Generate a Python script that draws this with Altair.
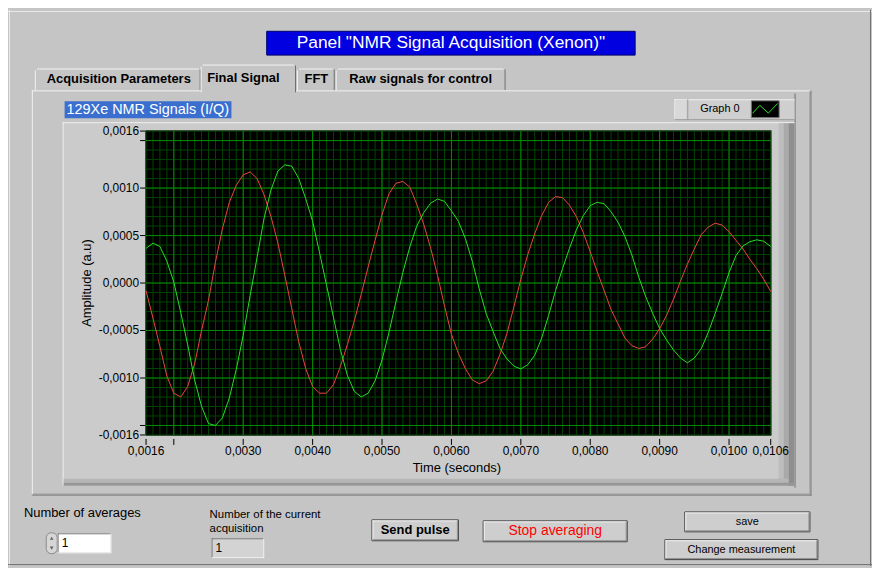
import altair as alt
import numpy as np
import pandas as pd

FONT = "Liberation Sans"

# ---------------- data (amplitude read in units of 1e-4 a.u.) ----------------
t_start_s = 0.0016
t_step_s = 0.0001
signal_I = [-0.8, -3.7, -6.7, -9.8, -11.6, -12.0, -10.9, -8.5, -5.0, -1.8,
            2.2, 5.7, 8.5, 10.3, 11.4, 11.7, 11.0, 9.3, 7.0, 4.2,
            0.8, -2.7, -6.2, -9.0, -10.9, -11.6, -11.6, -10.7, -8.8, -6.5,
            -4.0, -1.2, 1.7, 4.5, 7.2, 9.4, 10.5, 10.7, 10.1, 8.3,
            6.2, 3.7, 0.8, -2.4, -5.4, -7.4, -9.0, -10.2, -10.6, -10.3,
            -9.3, -7.5, -5.3, -2.5, 0.4, 3.0, 5.2, 7.1, 8.5, 9.1,
            9.0, 8.2, 7.0, 5.3, 3.3, 1.2, -0.8, -2.8, -4.3, -5.8,
            -6.6, -6.9, -6.7, -5.9, -4.8, -3.4, -1.7, 0.2, 2.0, 3.6,
            5.1, 5.9, 6.3, 6.1, 5.4, 4.5, 3.6, 2.5, 1.5, 0.4,
            -0.9]
signal_Q = [3.65, 4.2, 3.85, 2.3, 0.1, -3.1, -6.5, -10.2, -13.0, -14.8,
            -15.0, -14.2, -12.1, -9.1, -5.5, -1.3, 2.7, 6.8, 9.8, 11.8,
            12.45, 12.3, 11.0, 8.9, 6.5, 3.2, -0.2, -3.6, -7.0, -9.7,
            -11.4, -12.0, -11.6, -10.3, -8.1, -5.2, -2.0, 1.1, 3.8, 6.0,
            7.4, 8.4, 8.85, 8.6, 7.6, 6.5, 4.7, 2.3, -0.6, -3.2,
            -5.1, -6.9, -8.0, -8.75, -9.05, -8.6, -7.6, -5.8, -3.4, -0.8,
            1.5, 3.65, 5.6, 7.1, 8.15, 8.5, 8.35, 7.5, 6.4, 4.9,
            2.95, 0.6, -1.45, -3.2, -4.8, -6.0, -7.05, -7.9, -8.4, -7.9,
            -6.9, -5.2, -3.2, -1.1, 1.1, 2.9, 3.9, 4.35, 4.55, 4.4,
            3.85]
time_s = list(np.round(t_start_s + t_step_s * np.arange(len(signal_I)), 5))

x_ticks = [0.0016, 0.002, 0.003, 0.004, 0.005, 0.006, 0.007, 0.008, 0.009, 0.010, 0.0106]
x_tick_labels = ["0,0016", "", "0,0030", "0,0040", "0,0050", "0,0060", "0,0070",
                 "0,0080", "0,0090", "0,0100", "0,0106"]
y_ticks = [-0.0016, -0.0015, -0.001, -0.0005, 0.0, 0.0005, 0.001, 0.0015, 0.0016]
y_tick_labels = ["-0,0016", "", "-0,0010", "-0,0005", "0,0000", "0,0005", "0,0010", "", "0,0016"]
x_major_grid = [0.002, 0.003, 0.004, 0.005, 0.006, 0.007, 0.008, 0.009, 0.010]
y_major_grid = [-0.0015, -0.001, -0.0005, 0.0, 0.0005, 0.001, 0.0015]
x_minor_grid = list(np.round(np.arange(16, 107) * 1e-4, 4))
y_minor_grid = list(np.round(np.arange(-16, 17) * 1e-4, 4))

series_names = ["I", "Q"]
series_colors = ["#ee4444", "#26e026"]

df = pd.DataFrame({
    "t": time_s * 2,
    "v": [v * 1e-4 for v in signal_I] + [v * 1e-4 for v in signal_Q],
    "s": ["I"] * len(signal_I) + ["Q"] * len(signal_Q),
})

# ---------------- layout helpers (page pixel coords -> plot coords) ----------------
OX, OY = 147, 130
PW, PH = 629, 306
one = pd.DataFrame({"d": [0]})


def P(x):
    return x - OX


def Q(y):
    return y - OY


def rect(x1, y1, x2, y2, fill, stroke=None, sw=1, r=0):
    kw = dict(fill=fill)
    if stroke:
        kw.update(stroke=stroke, strokeWidth=sw)
    else:
        kw.update(strokeWidth=0)
    if r:
        kw["cornerRadius"] = r
    return alt.Chart(one).mark_rect(**kw).encode(
        x=alt.value(P(x1)), x2=alt.value(P(x2)), y=alt.value(Q(y1)), y2=alt.value(Q(y2)))


def hl(x1, x2, y, c):
    return alt.Chart(one).mark_rule(color=c, strokeWidth=1).encode(
        x=alt.value(P(x1)), x2=alt.value(P(x2)), y=alt.value(Q(y) + 0.5))


def vl(x, y1, y2, c):
    return alt.Chart(one).mark_rule(color=c, strokeWidth=1).encode(
        x=alt.value(P(x) + 0.5), y=alt.value(Q(y1)), y2=alt.value(Q(y2)))


def txt(x, y, s, size=12, color="black", align="left", weight="normal", angle=0):
    kw = dict(text=s, fontSize=size, color=color, align=align, baseline="middle",
              font=FONT, fontWeight=weight)
    if angle:
        kw["angle"] = angle
    return alt.Chart(one).mark_text(**kw).encode(x=alt.value(P(x)), y=alt.value(Q(y)))


def button(x1, y1, x2, y2, label, size, color="black", weight="normal"):
    return [
        rect(x1 + 0.5, y1 + 0.5, x2 - 0.5, y2 - 0.5, "#cecece", stroke="#3a3a3a"),
        hl(x1 + 1, x2 - 1, y1 + 1, "#f4f4f4"),
        vl(x1 + 1, y1 + 1, y2 - 1, "#f4f4f4"),
        hl(x1 + 1, x2 - 1, y2 - 2, "#8c8c8c"),
        vl(x2 - 2, y1 + 1, y2 - 1, "#8c8c8c"),
        txt((x1 + x2) / 2, (y1 + y2) / 2, label, size, color, "center", weight),
    ]


GRAY = "#c5c5c5"
LIGHT = "#f2f2f2"
DARK = "#6e6e6e"

deco = []
# outer panel bevel
deco += [hl(8, 878, 9, "#ececec"), vl(9, 8, 568, "#ececec"),
         hl(8, 878, 566, "#707070"), vl(876, 8, 568, "#707070")]
# title
deco += [rect(268.5, 29.5, 639.5, 53.5, "#0000e0", stroke="#00006a")]
# non-selected tabs
for (a, b) in [(35, 202), (299, 337), (338, 509)]:
    deco += [rect(a, 67, b, 90, GRAY), hl(a + 2, b - 2, 67, LIGHT), vl(a, 69, 90, LIGHT),
             vl(b - 1, 68, 90, DARK)]
# tab content panel
deco += [rect(32, 89, 817, 497, GRAY), hl(32, 817, 89, LIGHT), vl(32, 89, 497, LIGHT),
         hl(32, 817, 496, DARK), vl(816, 89, 497, DARK),
         hl(33, 816, 495, "#9a9a9a"), vl(815, 90, 496, "#9a9a9a")]
# selected tab
deco += [rect(202, 63, 298, 91, GRAY), hl(204, 296, 63, LIGHT), vl(202, 65, 91, LIGHT),
         vl(297, 64, 91, DARK)]
# graph frame
deco += [vl(800, 92, 489, DARK),
         rect(63, 121, 800, 487, "#cbcbcb"),
         hl(63, 800, 121, "#eeeeee"), vl(63, 121, 487, "#eeeeee"),
         rect(784, 122, 789, 486, "#bdbdbd"), rect(789, 122, 794, 486, "#a9a9a9"),
         rect(794, 122, 800, 487, "#8e8e8e"),
         rect(64, 480, 794, 484, "#b6b6b6"), rect(64, 484, 800, 487, "#979797")]
# graph title (highlighted)
deco += [rect(65, 100, 233, 117, "#3a6fd0")]
# legend
deco += [rect(679, 98, 800, 119, "#cfcfcf"), hl(679, 800, 98, "#f0f0f0"),
         vl(679, 98, 119, "#f0f0f0"), rect(680, 99, 691, 118, "#d9d9d9"),
         vl(692, 98, 119, "#9a9a9a"), hl(679, 800, 118, "#9a9a9a"),
         rect(756.5, 99.5, 784.5, 116.5, "black", stroke="#7a7a7a")]
# plot area background
deco += [rect(146.5, 129.5, 776.5, 436.5, "black", stroke="#5c5c5c")]

legend_icon = alt.Chart(one).mark_point(
    shape="M-0.95,0.32L-0.38,-0.3L0.28,0.3L1,-0.45", filled=False, size=676,
    color="#2ee02e", strokeWidth=1, opacity=1,
).encode(x=alt.value(P(770)), y=alt.value(Q(108)))

# ---------------- chart layers (all positioned by the shared scales) ----------------
xs = alt.Scale(domain=[0.0016, 0.0106], nice=False, zero=False)
ys = alt.Scale(domain=[-0.0016, 0.0016], nice=False, zero=False)

minor_v = alt.Chart(pd.DataFrame({"g": x_minor_grid})).mark_rule(
    color="#004600", strokeWidth=1).encode(x=alt.X("g:Q", scale=xs, axis=None))
minor_h = alt.Chart(pd.DataFrame({"g": y_minor_grid})).mark_rule(
    color="#004600", strokeWidth=1).encode(y=alt.Y("g:Q", scale=ys, axis=None))
major_v = alt.Chart(pd.DataFrame({"g": x_major_grid})).mark_rule(
    color="#008c00", strokeWidth=1).encode(x=alt.X("g:Q", scale=xs, axis=None))
major_h = alt.Chart(pd.DataFrame({"g": y_major_grid})).mark_rule(
    color="#008c00", strokeWidth=1).encode(y=alt.Y("g:Q", scale=ys, axis=None))

lines = alt.Chart(df).mark_line(strokeWidth=1).encode(
    x=alt.X("t:Q", scale=xs, axis=None),
    y=alt.Y("v:Q", scale=ys, axis=None),
    color=alt.Color("s:N", scale=alt.Scale(domain=series_names, range=series_colors), legend=None),
)

xt_df = pd.DataFrame({"tv": x_ticks, "lab": x_tick_labels})
yt_df = pd.DataFrame({"tv": y_ticks, "lab": y_tick_labels})

x_tick_marks = alt.Chart(xt_df).mark_rule(color="black", strokeWidth=1).encode(
    x=alt.X("tv:Q", scale=xs, axis=None), y=alt.value(Q(440)), y2=alt.value(Q(446)))
x_tick_text = alt.Chart(xt_df).mark_text(
    font=FONT, fontSize=12, color="black", align="center", baseline="middle").encode(
    x=alt.X("tv:Q", scale=xs, axis=None), y=alt.value(Q(452)), text="lab:N")
y_tick_marks = alt.Chart(yt_df).mark_rule(color="black", strokeWidth=1).encode(
    y=alt.Y("tv:Q", scale=ys, axis=None), x=alt.value(P(141)), x2=alt.value(P(146)))
y_tick_text = alt.Chart(yt_df).mark_text(
    font=FONT, fontSize=12, color="black", align="right", baseline="middle").encode(
    y=alt.Y("tv:Q", scale=ys, axis=None), x=alt.value(P(140)), text="lab:N")

texts = [
    txt(454, 41.5, 'Panel "NMR Signal Acquisition (Xenon)"', 17.5, "white", "center"),
    txt(119.5, 78, "Acquisition Parameters", 13, align="center", weight="bold"),
    txt(245, 77, "Final Signal", 13, align="center", weight="bold"),
    txt(318.5, 78, "FFT", 13, align="center", weight="bold"),
    txt(423.5, 78, "Raw signals for control", 13, align="center", weight="bold"),
    txt(67, 108.5, "129Xe NMR Signals (I/Q)", 14.5, "white"),
    txt(705, 108, "Graph 0", 11),
    txt(88, 283, "Amplitude (a.u)", 13, align="center", angle=270),
    txt(460, 469, "Time (seconds)", 13, align="center"),
    txt(24, 515, "Number of averages", 13),
    txt(211, 517, "Number of the current", 11.5),
    txt(211, 531, "acquisition", 11.5),
]

bottom = []
# numeric control with spinner
bottom += [rect(46.5, 534.5, 57.5, 555.5, "#d6d6d6", stroke="#8a8a8a", r=5),
           alt.Chart(one).mark_point(shape="triangle-up", filled=True, size=14, color="#606060",
                                     opacity=1).encode(x=alt.value(P(52)), y=alt.value(Q(540))),
           alt.Chart(one).mark_point(shape="triangle-down", filled=True, size=14, color="#606060",
                                     opacity=1).encode(x=alt.value(P(52)), y=alt.value(Q(550))),
           rect(58, 535, 112, 555, "white"),
           hl(58, 112, 535, "#7a7a7a"), vl(58, 535, 555, "#7a7a7a"),
           hl(58, 112, 554, "#e6e6e6"), vl(111, 535, 555, "#e6e6e6"),
           txt(62, 545, "1", 12)]
# indicator
bottom += [rect(213, 540, 266, 560, "#d3d3d3"),
           hl(213, 266, 540, "#7a7a7a"), vl(213, 540, 560, "#7a7a7a"),
           hl(213, 266, 559, "#eeeeee"), vl(265, 540, 560, "#eeeeee"),
           txt(217, 550, "1", 12)]
bottom += button(374, 521, 462, 543, "Send pulse", 13, weight="bold")
bottom += button(486, 522, 632, 544, "Stop averaging", 14, color="#ff0000")
bottom += button(689, 513, 816, 534, "save", 11)
bottom += button(669, 541, 824, 562, "Change measurement", 11)

layers = (deco + [minor_v, minor_h, major_v, major_h, lines, legend_icon,
                  x_tick_marks, x_tick_text, y_tick_marks, y_tick_text] + texts + bottom)

chart = alt.layer(*layers).properties(
    width=PW, height=PH,
    padding={"left": 139, "top": 122, "right": 870 - 139 - PW, "bottom": 560 - 122 - PH},
    autosize=alt.AutoSizeParams(type="none"),
    background=GRAY,
).configure_view(strokeWidth=0)

chart.save("out.html", embed_options={"renderer": "svg", "actions": False})
